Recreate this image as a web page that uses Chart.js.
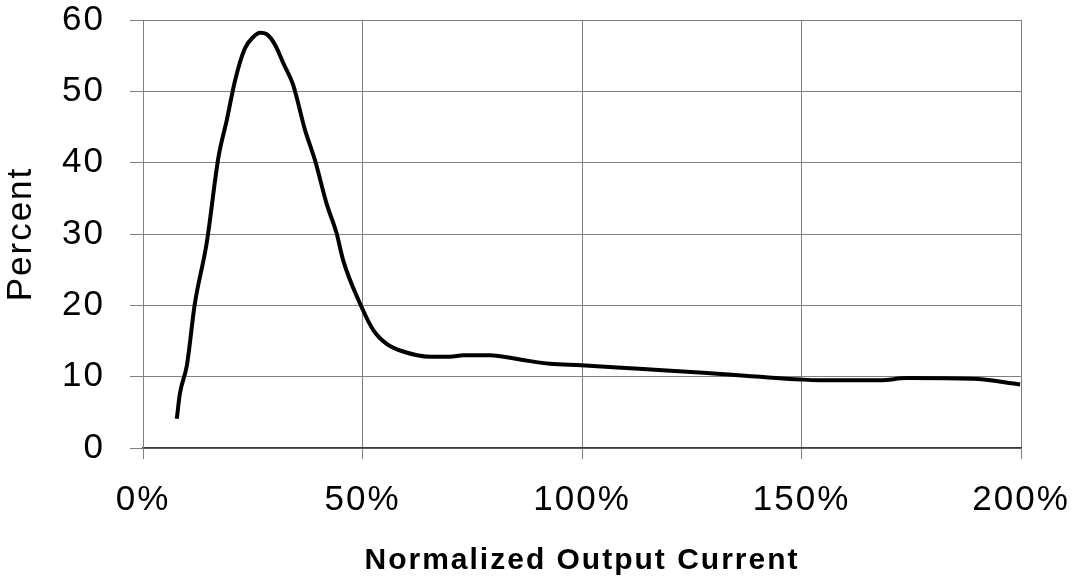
<!DOCTYPE html>
<html>
<head>
<meta charset="utf-8">
<script src="https://cdn.jsdelivr.net/npm/chart.js@4/dist/chart.umd.min.js"></script>
<style>
  html, body { margin: 0; padding: 0; background: #fff; }
  #wrap { width: 1073px; height: 580px; }
</style>
</head>
<body>
<div id="wrap"><canvas id="chart" width="1073" height="580"></canvas></div>
<script>
// Normalized output current (%) and percent values
const currentPct = [7.7, 8.4, 10, 11.8, 14.5, 17.2, 19.1, 21, 23.2, 25.1, 26.7, 28.2, 30.1, 32, 34.2,
  36.9, 39.2, 41.8, 44.1, 45.6, 49.4, 52.5, 55.5, 58.9, 65.4, 69.9, 73, 79, 85.9, 92.7, 99.8,
  113, 126.7, 149.8, 154, 167.9, 174, 189, 199.8];
const percentVals = [4.1, 7.6, 11.6, 20.2, 28.7, 40.8, 46, 51.6, 56, 57.6, 58.2, 58, 56.5, 53.9, 50.9,
  44.6, 40.3, 34.3, 30.1, 26.3, 20.3, 16.5, 14.6, 13.6, 12.8, 12.8, 13, 13, 12.4, 11.8, 11.6,
  11.1, 10.6, 9.6, 9.5, 9.5, 9.8, 9.7, 8.9];
const xTicks = [0, 50, 100, 150, 200];
const yTicks = [0, 10, 20, 30, 40, 50, 60];

const gridColor = '#808080';
const font = 'Liberation Sans, Arial, sans-serif';

// spaced-out text like the original
const spacing = {
  id: 'spacing',
  beforeDraw(chart) { chart.ctx.letterSpacing = '2px'; }
};

const ctx = document.getElementById('chart').getContext('2d');
new Chart(ctx, {
  type: 'line',
  data: {
    datasets: [{
      data: currentPct.map((x, i) => ({ x, y: percentVals[i] })),
      borderColor: '#000',
      borderWidth: 4,
      pointRadius: 0,
      fill: false,
      cubicInterpolationMode: 'monotone'
    }]
  },
  options: {
    responsive: false,
    animation: false,
    layout: { padding: { top: 20, right: 52, left: 0, bottom: 0 } },
    plugins: { legend: { display: false }, tooltip: { enabled: false } },
    scales: {
      x: {
        type: 'linear',
        min: 0, max: 200,
        afterBuildTicks: s => { s.ticks = xTicks.map(v => ({ value: v })); },
        afterFit: s => { s.height = 132; s.paddingLeft = 0; s.paddingRight = 0; },
        grid: { color: gridColor, lineWidth: 1, tickLength: 11, tickColor: gridColor },
        border: { color: '#3a3a3a', width: 1.5 },
        ticks: {
          color: '#000', padding: 20, maxRotation: 0,
          font: { family: font, size: 35 },
          callback: v => v + '%'
        },
        title: {
          display: true, text: 'Normalized Output Current', color: '#000',
          font: { family: font, size: 30, weight: 'bold' },
          padding: { top: 0, bottom: 1 }
        }
      },
      y: {
        min: 0, max: 60,
        afterBuildTicks: s => { s.ticks = yTicks.map(v => ({ value: v })); },
        afterFit: s => { s.width = 143; s.paddingTop = 0; s.paddingBottom = 0; },
        grid: { color: gridColor, lineWidth: 1, tickLength: 13, tickColor: gridColor },
        border: { color: gridColor, width: 1 },
        ticks: {
          color: '#000', padding: 25,
          font: { family: font, size: 35 }
        },
        title: {
          display: true, text: 'Percent', color: '#000',
          font: { family: font, size: 35 },
          padding: { top: 0, bottom: 0 }
        }
      }
    }
  },
  plugins: [spacing]
});
</script>
</body>
</html>
